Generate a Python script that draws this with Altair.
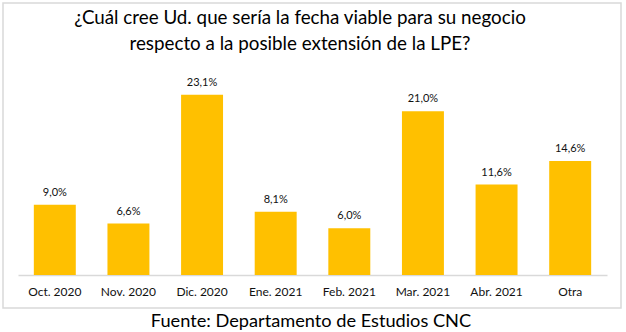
import altair as alt
import pandas as pd

categories = ["Oct. 2020", "Nov. 2020", "Dic. 2020", "Ene. 2021", "Feb. 2021", "Mar. 2021", "Abr. 2021", "Otra"]
values = [9.0, 6.6, 23.1, 8.1, 6.0, 21.0, 11.6, 14.6]
labels = ["9,0%", "6,6%", "23,1%", "8,1%", "6,0%", "21,0%", "11,6%", "14,6%"]
title_lines = ["¿Cuál cree Ud. que sería la fecha viable para su negocio",
               "respecto a la posible extensión de la LPE?"]
source = "Fuente: Departamento de Estudios CNC"

df = pd.DataFrame({"cat": categories, "val": values, "lab": labels})

FONT = "Lato"
W, H = 589, 195

x = alt.X("cat:N", sort=categories,
          scale=alt.Scale(paddingInner=0.43, paddingOuter=0.215),
          axis=alt.Axis(title=None, labelAngle=0, labelFont=FONT, labelFontSize=12,
                        labelColor="#111111", labelPadding=11, ticks=False,
                        domainColor="#d9d9d9", domainWidth=1.5))
y = alt.Y("val:Q", scale=alt.Scale(domain=[0, 25]), axis=None)

base = alt.Chart(df)

bars = base.mark_bar(color="#FFC000").encode(x=x, y=y)
text = base.mark_text(dy=-12, font=FONT, fontSize=11, color="#111111").encode(
    x=x, y=y, text="lab:N")

box = alt.Chart(pd.DataFrame({"a": [0]})).mark_rect(
    fill=None, stroke="#d9d9d9", strokeWidth=1.5).encode(
    x=alt.value(-15), x2=alt.value(603), y=alt.value(-77), y2=alt.value(33 + H))

tdf = pd.DataFrame({"t": title_lines, "yy": [-62, -36]})
title = alt.Chart(tdf).mark_text(font=FONT, fontSize=18.8, color="#000000").encode(
    x=alt.value(282), y=alt.Y("yy:Q", scale=None), text="t:N")

src = alt.Chart(pd.DataFrame({"t": [source]})).mark_text(
    font=FONT, fontSize=18.2, color="#000000").encode(
    x=alt.value(293), y=alt.value(H + 47), text="t:N")

chart = alt.layer(box, bars, text, title, src).properties(
    width=W, height=H,
    autosize=alt.AutoSizeParams(type="none"),
    padding={"left": 18, "top": 80, "right": 19, "bottom": 57},
).configure_view(stroke=None)

chart.save("out.html", embed_options={"renderer": "svg", "actions": False})
